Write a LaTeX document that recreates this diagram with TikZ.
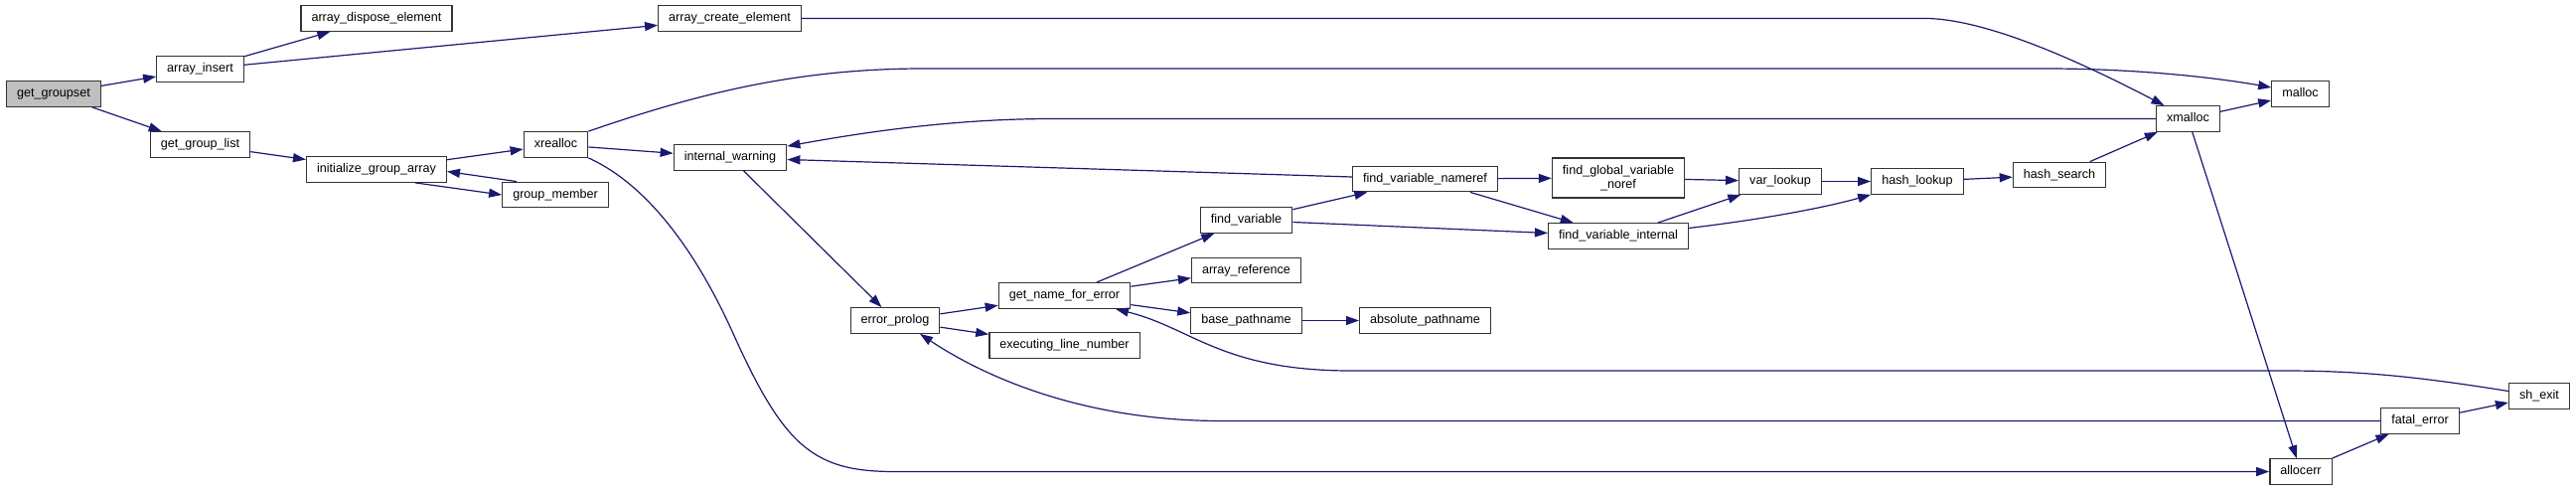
\documentclass[tikz,border=0pt]{standalone}
\usepackage{fontspec}
\setmainfont{Liberation Sans}
\usetikzlibrary{arrows.meta}
\definecolor{edgeblue}{RGB}{25,25,112}
\tikzset{fbox/.style={
    rectangle,
    draw=black!80,
    line width=1.3pt,
    fill=white,
    align=center,
    font=\fontsize{12.6}{14}\selectfont,
    text height=9pt,
    text depth=2.8pt,
    inner xsep=10.5pt,
    minimum height=25.5pt
  },
  curbox/.style={fbox,fill=black!25},
  tallbox/.style={fbox,text height=23pt,minimum height=40pt},
  callarrow/.style={edgeblue,line width=1.2pt,-{Triangle[length=13pt,width=9pt]}},
}

\begin{document}
\begin{tikzpicture}[x=1pt,y=-1pt]
  \useasboundingbox (0,0) rectangle (2593,493);
  \node[curbox] (get_groupset) at (54,94.5) {get\_groupset};
  \node[fbox] (array_insert) at (201.5,69.5) {array\_insert};
  \node[fbox] (array_dispose_element) at (379,18.5) {array\_dispose\_element};
  \node[fbox] (array_create_element) at (734.5,18.5) {array\_create\_element};
  \node[fbox] (get_group_list) at (201.5,145.5) {get\_group\_list};
  \node[fbox] (initialize_group_array) at (379,170.5) {initialize\_group\_array};
  \node[fbox] (xrealloc) at (559.5,145.5) {xrealloc};
  \node[fbox] (group_member) at (559,196) {group\_member};
  \node[fbox] (internal_warning) at (735,158.5) {internal\_warning};
  \node[fbox] (error_prolog) at (901,322.5) {error\_prolog};
  \node[fbox] (get_name_for_error) at (1071.5,297.5) {get\_name\_for\_error};
  \node[fbox] (executing_line_number) at (1071.5,347.5) {executing\_line\_number};
  \node[fbox] (find_variable) at (1254.5,221.5) {find\_variable};
  \node[fbox] (array_reference) at (1254.5,272) {array\_reference};
  \node[fbox] (base_pathname) at (1254.5,322.5) {base\_pathname};
  \node[fbox] (find_variable_nameref) at (1434.5,180) {find\_variable\_nameref};
  \node[fbox] (absolute_pathname) at (1434.5,322.5) {absolute\_pathname};
  \node[tallbox] (find_global_variable_noref) at (1629,179) {find\_global\_variable\\\_noref};
  \node[fbox] (find_variable_internal) at (1629,237.5) {find\_variable\_internal};
  \node[fbox] (var_lookup) at (1792,182.5) {var\_lookup};
  \node[fbox] (hash_lookup) at (1930,182.5) {hash\_lookup};
  \node[fbox] (hash_search) at (2073,176) {hash\_search};
  \node[fbox] (xmalloc) at (2202.5,119.5) {xmalloc};
  \node[fbox] (malloc) at (2315.5,94.5) {malloc};
  \node[fbox] (sh_exit) at (2556,398.5) {sh\_exit};
  \node[fbox] (fatal_error) at (2436,423.5) {fatal\_error};
  \node[fbox] (allocerr) at (2316,474.5) {allocerr};

  \draw[callarrow] (get_groupset) -- (array_insert);
  \draw[callarrow] (get_groupset) -- (get_group_list);
  \draw[callarrow] (array_insert) -- (array_dispose_element);
  \draw[callarrow] (array_insert) -- (array_create_element);
  \draw[callarrow] (array_create_element.east) -- (1940,18.5)
    .. controls (2000,20) and (2090,60) .. ([xshift=-24pt]xmalloc.north);
  \draw[callarrow] (get_group_list) -- (initialize_group_array);
  \draw[callarrow] (initialize_group_array) -- (xrealloc);
  \draw[callarrow] ([xshift=39pt]initialize_group_array.south) -- (group_member.west);
  \draw[callarrow] ([xshift=15pt]group_member.north west) -- ([yshift=-2pt]initialize_group_array.east);
  \draw[callarrow] (xrealloc.north east) .. controls (700,95) and (800,69) .. (930,69)
    -- (2060,69) .. controls (2150,69) and (2230,78) .. ([yshift=6.5pt]malloc.west);
  \draw[callarrow] (xrealloc) -- (internal_warning);
  \draw[callarrow] (xrealloc.south east) .. controls (650,185) and (700,250) .. (740,340)
    .. controls (790,450) and (820,474.5) .. (900,474.5) -- (allocerr.west);
  \draw[callarrow] (internal_warning) -- (error_prolog);
  \draw[callarrow] (xmalloc.west) -- (1060,119.5)
    .. controls (960,119.5) and (870,133) .. ([yshift=-2pt]internal_warning.north east);
  \draw[callarrow] ([yshift=2pt]find_variable_nameref.west) -- ([yshift=-2pt]internal_warning.east);
  \draw[callarrow] (error_prolog) -- (get_name_for_error);
  \draw[callarrow] (error_prolog) -- (executing_line_number);
  \draw[callarrow] (get_name_for_error) -- (find_variable);
  \draw[callarrow] (get_name_for_error) -- (array_reference);
  \draw[callarrow] (get_name_for_error) -- (base_pathname);
  \draw[callarrow] ([yshift=5pt]sh_exit.west) .. controls (2440,380) and (2380,373) .. (2300,373)
    -- (1360,373) .. controls (1230,373) and (1200,330) .. ([xshift=51.5pt]get_name_for_error.south);
  \draw[callarrow] (fatal_error.west) -- (1230,423.5)
    .. controls (1100,423.5) and (1000,385) .. ([xshift=25pt]error_prolog.south);
  \draw[callarrow] (find_variable) -- (find_variable_nameref);
  \draw[callarrow] (find_variable) -- (find_variable_internal);
  \draw[callarrow] (base_pathname) -- (absolute_pathname);
  \draw[callarrow] (find_variable_nameref) -- (find_global_variable_noref);
  \draw[callarrow] (find_variable_nameref) -- (find_variable_internal);
  \draw[callarrow] (find_global_variable_noref) -- (var_lookup);
  \draw[callarrow] (find_variable_internal) -- (var_lookup);
  \draw[callarrow] ([yshift=8pt]find_variable_internal.east) .. controls (1780,220) and (1840,208) .. (hash_lookup.south west);
  \draw[callarrow] (var_lookup) -- (hash_lookup);
  \draw[callarrow] (hash_lookup) -- (hash_search);
  \draw[callarrow] (hash_search) -- (xmalloc);
  \draw[callarrow] (xmalloc) -- (malloc);
  \draw[callarrow] (xmalloc) -- (allocerr);
  \draw[callarrow] (allocerr) -- (fatal_error);
  \draw[callarrow] (fatal_error) -- (sh_exit);
\end{tikzpicture}
\end{document}
